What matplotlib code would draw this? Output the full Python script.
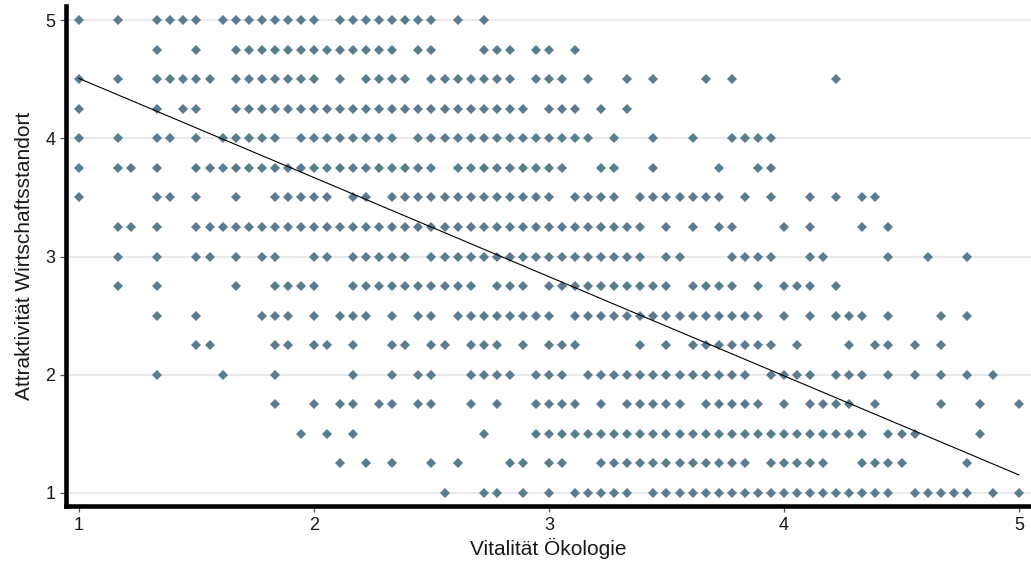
import numpy as np
import matplotlib
matplotlib.use("Agg")
import matplotlib.pyplot as plt

# -----------------------------
# Data
# x values lie on a grid of 1/18 steps starting at 1, y values on 0.25 steps
# each list holds the x-step indices of the points found on one y level
# -----------------------------
x_step = 1 / 18

x_steps_5_00 = [0, 3, 6, 7, 8, 9, 11, 12, 13, 14, 15, 16, 17, 18, 20, 21, 22, 23,
                24, 25, 26, 27, 29, 31]
x_steps_4_75 = [6, 9, 12, 13, 14, 15, 16, 17, 18, 19, 20, 21, 22, 23, 24, 26, 27,
                31, 32, 33, 35, 36, 38]
x_steps_4_50 = [0, 3, 6, 7, 8, 9, 10, 12, 13, 14, 15, 16, 17, 18, 20, 22, 23, 24,
                25, 27, 28, 29, 30, 31, 32, 33, 35, 36, 37, 39, 42, 44, 48, 50, 58]
x_steps_4_25 = [0, 6, 8, 9, 12, 13, 14, 15, 16, 17, 18, 19, 20, 21, 22, 23, 24, 25,
                26, 27, 28, 29, 30, 31, 32, 33, 34, 36, 37, 38, 40, 42]
x_steps_4_00 = [0, 3, 6, 7, 9, 11, 12, 13, 14, 15, 17, 18, 19, 20, 21, 22, 23, 24,
                26, 27, 28, 29, 30, 31, 32, 33, 34, 35, 36, 37, 38, 39, 41, 44, 47,
                50, 51, 52, 53]
x_steps_3_75 = [0, 3, 4, 6, 9, 10, 11, 12, 13, 14, 15, 16, 17, 18, 19, 20, 21, 22,
                23, 24, 25, 26, 27, 29, 30, 31, 32, 33, 34, 35, 36, 37, 40, 41, 44,
                49, 52, 53]
x_steps_3_50 = [0, 6, 7, 9, 12, 15, 16, 17, 18, 19, 21, 22, 24, 25, 26, 27, 28, 29,
                30, 31, 32, 33, 34, 35, 36, 38, 39, 40, 41, 43, 44, 45, 46, 47, 48,
                49, 51, 53, 56, 58, 60, 61]
x_steps_3_25 = [3, 4, 6, 9, 10, 11, 12, 13, 14, 15, 16, 17, 18, 19, 20, 21, 22, 23,
                24, 25, 26, 27, 28, 29, 30, 31, 32, 33, 34, 35, 36, 37, 38, 39, 40,
                41, 42, 43, 45, 47, 49, 50, 54, 56, 60, 62]
x_steps_3_00 = [3, 6, 9, 10, 12, 14, 15, 18, 19, 21, 22, 23, 24, 25, 27, 28, 29, 30,
                31, 32, 33, 34, 35, 36, 37, 38, 39, 40, 41, 42, 43, 45, 46, 50, 51,
                52, 53, 56, 57, 62, 65, 68]
x_steps_2_75 = [3, 6, 12, 15, 16, 17, 18, 21, 22, 23, 24, 25, 26, 27, 28, 29, 30,
                32, 33, 34, 36, 37, 38, 39, 40, 41, 42, 43, 44, 45, 47, 48, 49, 50,
                52, 54, 55, 56, 58]
x_steps_2_50 = [6, 9, 14, 15, 16, 18, 20, 21, 22, 24, 26, 27, 29, 30, 31, 32, 33,
                34, 35, 36, 38, 39, 40, 41, 42, 43, 44, 45, 46, 47, 48, 49, 50, 51,
                52, 54, 56, 58, 59, 60, 62, 66, 68]
x_steps_2_25 = [9, 10, 15, 16, 18, 19, 21, 24, 25, 27, 28, 30, 31, 32, 34, 36, 37,
                38, 43, 45, 47, 48, 49, 50, 51, 52, 53, 55, 59, 61, 62, 64, 66]
x_steps_2_00 = [6, 11, 15, 21, 24, 26, 27, 30, 31, 32, 33, 35, 36, 37, 39, 40, 41,
                42, 43, 44, 45, 46, 47, 48, 49, 50, 51, 53, 54, 55, 56, 58, 59, 60,
                62, 64, 66, 68, 70]
x_steps_1_75 = [15, 18, 20, 21, 23, 24, 26, 27, 30, 32, 35, 36, 37, 38, 40, 42, 43,
                44, 45, 46, 48, 49, 50, 51, 52, 54, 56, 57, 58, 59, 61, 66, 69, 72]
x_steps_1_50 = [17, 19, 21, 31, 35, 36, 37, 38, 39, 40, 41, 42, 43, 44, 45, 46, 47,
                48, 49, 50, 51, 52, 53, 54, 55, 56, 57, 58, 59, 60, 62, 63, 64, 69]
x_steps_1_25 = [20, 22, 24, 27, 29, 33, 34, 36, 37, 40, 41, 42, 43, 44, 45, 46, 47,
                48, 49, 50, 51, 53, 54, 55, 56, 57, 60, 61, 62, 63, 68]
x_steps_1_00 = [28, 31, 32, 34, 36, 38, 39, 40, 41, 42, 44, 45, 46, 47, 48, 49, 50,
                51, 52, 53, 54, 55, 56, 57, 58, 59, 60, 61, 62, 64, 65, 66, 67, 68,
                70, 72]

y_levels = [5.0, 4.75, 4.5, 4.25, 4.0, 3.75, 3.5, 3.25, 3.0, 2.75, 2.5, 2.25,
            2.0, 1.75, 1.5, 1.25, 1.0]
rows = [x_steps_5_00, x_steps_4_75, x_steps_4_50, x_steps_4_25, x_steps_4_00,
        x_steps_3_75, x_steps_3_50, x_steps_3_25, x_steps_3_00, x_steps_2_75,
        x_steps_2_50, x_steps_2_25, x_steps_2_00, x_steps_1_75, x_steps_1_50,
        x_steps_1_25, x_steps_1_00]

# fitted line
fit_intercept = 5.345
fit_slope = -0.8385
fit_x = [1, 5]

x_ticks = [1, 2, 3, 4, 5]
y_ticks = [1, 2, 3, 4, 5]
x_label = "Vitalität Ökologie"
y_label = "Attraktivität Wirtschaftsstandort"

# -----------------------------
# Build point arrays
# -----------------------------
xs, ys = [], []
for y, steps in zip(y_levels, rows):
    for k in steps:
        xs.append(1 + k * x_step)
        ys.append(y)
xs = np.array(xs)
ys = np.array(ys)

# -----------------------------
# Plot
# -----------------------------
plt.rcParams["font.family"] = ["Liberation Sans", "DejaVu Sans"]

fig = plt.figure(figsize=(10.31, 5.68), dpi=100)
ax = fig.add_axes([0.0645, 0.110, 0.9355, 0.8794])

ax.set_xlim(0.947, 5.051)
ax.set_ylim(0.894, 5.119)

for y in y_ticks:
    ax.axhline(y, color="#e3e3e3", linewidth=1.1, zorder=0)

ax.plot(xs, ys, linestyle="none", marker="D", markersize=4.8,
        color="#5b7b8e", markeredgewidth=0, zorder=2)

fx = np.array(fit_x, dtype=float)
ax.plot(fx, fit_intercept + fit_slope * fx, color="black", linewidth=0.8, zorder=3)

for side in ["top", "right"]:
    ax.spines[side].set_visible(False)
for side in ["left", "bottom"]:
    ax.spines[side].set_linewidth(3.3)
    ax.spines[side].set_color("black")

ax.set_xticks(x_ticks)
ax.set_yticks(y_ticks)
ax.tick_params(axis="both", direction="out", length=4, width=0.9,
               color="#555555", labelsize=13, labelcolor="#1a1a1a", pad=4)

ax.set_xlabel(x_label, fontsize=15, color="#1a1a1a", labelpad=3)
ax.set_ylabel(y_label, fontsize=15, color="#1a1a1a", labelpad=8)

fig.savefig("out.png", dpi=100, facecolor="white")
